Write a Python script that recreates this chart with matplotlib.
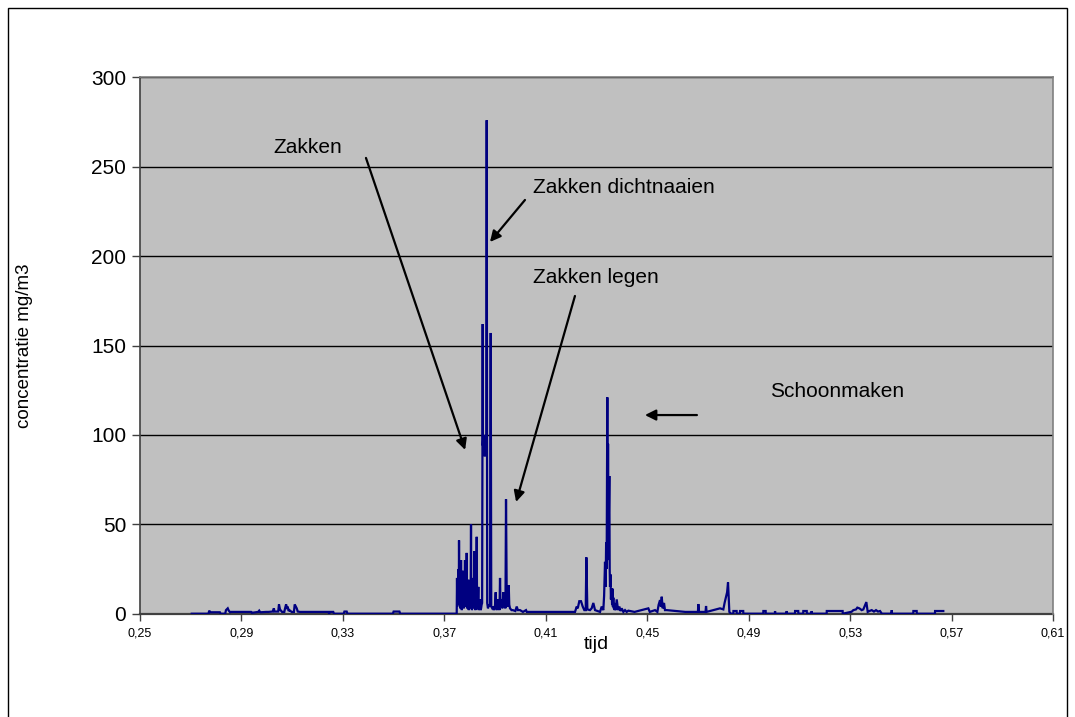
import matplotlib
matplotlib.use("Agg")
import matplotlib.pyplot as plt
import numpy as np
from matplotlib.patches import Rectangle
from matplotlib.ticker import FuncFormatter

plt.rcParams["font.family"] = ["Liberation Sans", "DejaVu Sans"]

# stofmeting: tijd (fractie van de dag) en concentratie (mg/m3), per fase
tijd_ochtend = [0.2704, 0.2770, 0.2773, 0.2777, 0.2815, 0.2818, 0.2836, 0.2839, 0.2846,
                0.2850, 0.2855, 0.2858, 0.2884, 0.2938, 0.2941, 0.2966, 0.2970, 0.2973,
                0.2976, 0.2997, 0.3006, 0.3023, 0.3028, 0.3030, 0.3045, 0.3048, 0.3052,
                0.3060, 0.3069, 0.3072, 0.3076, 0.3079, 0.3082, 0.3086, 0.3089, 0.3098,
                0.3107, 0.3110, 0.3118, 0.3122, 0.3131, 0.3243, 0.3246, 0.3249, 0.3262,
                0.3265, 0.3303, 0.3306, 0.3315, 0.3318, 0.3497, 0.3500, 0.3523, 0.3526,
                0.3748]
conc_ochtend = [0.0, 0.0, 1.7, 0.8, 0.8, 0.0, 0.0, 2.0, 3.0,
                1.7, 0.8, 1.0, 1.0, 1.0, 0.5, 1.0, 1.7, 1.0,
                0.8, 1.0, 1.0, 1.2, 3.0, 1.2, 1.2, 5.2, 2.4,
                1.0, 1.0, 3.0, 5.2, 3.5, 4.0, 1.5, 2.0, 1.0,
                1.0, 5.2, 3.0, 1.2, 1.0, 1.0, 0.0, 1.0, 1.0,
                0.0, 0.0, 1.2, 1.2, 0.0, 0.0, 1.2, 1.2, 0.0,
                0.0]

tijd_zakken = [0.37488, 0.37500, 0.37510, 0.37525, 0.37540, 0.37550, 0.37560, 0.37570,
               0.37579, 0.37590, 0.37600, 0.37610, 0.37620, 0.37630, 0.37640, 0.37650,
               0.37658, 0.37670, 0.37680, 0.37690, 0.37700, 0.37712, 0.37724, 0.37737,
               0.37750, 0.37765, 0.37780, 0.37797, 0.37815, 0.37828, 0.37840, 0.37850,
               0.37860, 0.37870, 0.37882, 0.37895, 0.37910, 0.37928, 0.37946, 0.37962,
               0.37980, 0.37995, 0.38010, 0.38020, 0.38030, 0.38041, 0.38052, 0.38063,
               0.38075, 0.38088, 0.38100, 0.38110, 0.38119, 0.38135, 0.38150, 0.38166,
               0.38182, 0.38196, 0.38210, 0.38225, 0.38240, 0.38258, 0.38277, 0.38290,
               0.38300, 0.38320, 0.38340, 0.38355, 0.38370, 0.38390, 0.38407, 0.38430,
               0.38450, 0.38470, 0.38490, 0.38513, 0.38522, 0.38530, 0.38540, 0.38555,
               0.38567, 0.38580, 0.38595, 0.38610, 0.38625, 0.38640, 0.38655, 0.38671,
               0.38690, 0.38720, 0.38760, 0.38800, 0.38829, 0.38850, 0.38890, 0.38932,
               0.38970, 0.39000, 0.39026, 0.39045, 0.39060, 0.39080, 0.39105, 0.39125,
               0.39150, 0.39175, 0.39196, 0.39215, 0.39230, 0.39263, 0.39285, 0.39300,
               0.39326, 0.39350, 0.39380, 0.39410, 0.39432, 0.39460, 0.39480, 0.39500,
               0.39539, 0.39560, 0.39590, 0.39650, 0.39700, 0.39800, 0.39854, 0.39900,
               0.39984, 0.40100, 0.40221, 0.40250, 0.41000, 0.42000]
conc_zakken = [0.0, 20.0, 4.0, 18.0, 8.0, 25.0, 15.0, 5.0,
               41.0, 12.0, 28.0, 6.0, 22.0, 3.0, 18.0, 8.0,
               30.0, 5.0, 10.0, 2.0, 18.0, 6.0, 24.0, 4.0,
               8.0, 3.0, 20.0, 6.0, 30.0, 4.0, 9.0, 15.0,
               25.0, 5.0, 34.0, 3.0, 12.0, 6.0, 19.0, 2.0,
               6.0, 12.0, 14.0, 3.0, 9.0, 20.0, 50.0, 4.0,
               10.0, 2.0, 4.0, 8.0, 20.0, 3.0, 12.0, 4.0,
               35.0, 5.0, 6.0, 2.0, 15.0, 5.0, 43.0, 3.0,
               10.0, 4.0, 15.0, 2.0, 5.0, 3.0, 8.0, 2.0,
               3.0, 5.0, 6.0, 162.0, 94.0, 98.0, 90.0, 96.0,
               92.0, 100.0, 88.0, 94.0, 90.0, 98.0, 92.0, 276.0,
               6.0, 3.0, 5.0, 4.0, 157.0, 4.0, 3.0, 4.0,
               2.0, 5.0, 12.0, 3.0, 4.0, 2.0, 8.0, 3.0,
               5.0, 2.0, 20.0, 4.0, 6.0, 8.0, 3.0, 4.0,
               12.0, 4.0, 5.0, 3.0, 64.0, 10.0, 16.0, 4.0,
               16.0, 5.0, 3.0, 2.0, 2.0, 1.5, 4.0, 2.0,
               2.0, 1.0, 2.0, 1.0, 1.0, 1.0]

tijd_schoon = [0.42153, 0.42219, 0.42260, 0.42322, 0.42389, 0.42456, 0.42520, 0.42575,
               0.42600, 0.42639, 0.42744, 0.42810, 0.42875, 0.42942, 0.43139, 0.43206,
               0.43269, 0.43300, 0.43336, 0.43360, 0.43380, 0.43400, 0.43427, 0.43440,
               0.43455, 0.43470, 0.43490, 0.43506, 0.43520, 0.43533, 0.43550, 0.43570,
               0.43585, 0.43600, 0.43615, 0.43630, 0.43645, 0.43664, 0.43680, 0.43700,
               0.43715, 0.43730, 0.43760, 0.43797, 0.43850, 0.43900, 0.43950, 0.43994,
               0.44060, 0.44125, 0.44190, 0.44255, 0.44500, 0.45044, 0.45100, 0.45308,
               0.45400, 0.45450, 0.45505, 0.45540, 0.45572, 0.45610, 0.45662, 0.45700,
               0.45769, 0.46500, 0.47000, 0.47015, 0.47040, 0.47300, 0.47319, 0.47340,
               0.47871, 0.48001, 0.48050, 0.48107, 0.48150, 0.48186, 0.48238, 0.48300]
conc_schoon = [1.0, 4.0, 3.0, 7.0, 7.0, 4.0, 2.0, 2.0,
               31.5, 2.4, 2.0, 3.0, 6.0, 2.0, 1.0, 4.0,
               2.0, 10.0, 29.0, 15.0, 40.0, 25.0, 121.0, 30.0,
               95.0, 35.0, 60.0, 77.0, 25.0, 15.0, 22.0, 8.0,
               14.0, 11.0, 5.0, 14.0, 4.0, 9.0, 3.0, 6.0,
               2.0, 5.0, 2.0, 8.0, 2.0, 4.0, 1.5, 3.0,
               1.0, 2.0, 1.0, 1.7, 1.0, 3.0, 1.0, 2.0,
               1.0, 5.0, 7.6, 4.0, 9.5, 3.0, 6.0, 2.0,
               2.0, 1.0, 1.0, 5.4, 1.0, 1.0, 4.3, 1.0,
               3.0, 2.4, 6.0, 9.5, 12.0, 17.5, 1.0, 0.0]

tijd_middag = [0.48395, 0.48400, 0.48525, 0.48530, 0.48655, 0.48660, 0.48785, 0.48790,
               0.49575, 0.49580, 0.49670, 0.49675, 0.50035, 0.50040, 0.50045, 0.50495,
               0.50500, 0.50505, 0.50825, 0.50830, 0.50955, 0.50960, 0.51150, 0.51155,
               0.51290, 0.51295, 0.51480, 0.51485, 0.51490, 0.52075, 0.52080, 0.52705,
               0.52710, 0.53060, 0.53127, 0.53233, 0.53285, 0.53364, 0.53458, 0.53521,
               0.53640, 0.53694, 0.53760, 0.53852, 0.53940, 0.54022, 0.54100, 0.54180,
               0.54250, 0.54636, 0.54641, 0.54646, 0.55490, 0.55495, 0.55625, 0.55630,
               0.56345, 0.56350, 0.56675]
conc_middag = [0.0, 1.5, 1.5, 0.0, 0.0, 1.5, 1.5, 0.0,
               0.0, 1.5, 1.5, 0.0, 0.0, 1.5, 0.0, 0.0,
               1.5, 0.0, 0.0, 1.5, 1.5, 0.0, 0.0, 1.5,
               1.5, 0.0, 0.0, 1.5, 0.0, 0.0, 1.5, 1.5,
               0.0, 1.1, 2.0, 2.4, 3.4, 3.0, 2.0, 2.4,
               6.5, 1.0, 1.5, 2.0, 1.2, 2.0, 1.2, 1.5,
               0.0, 0.0, 2.0, 0.0, 0.0, 1.5, 1.5, 0.0,
               0.0, 1.5, 1.5]

x_ticks = [0.25, 0.29, 0.33, 0.37, 0.41, 0.45, 0.49, 0.53, 0.57, 0.61]
y_ticks = [0, 50, 100, 150, 200, 250, 300]

# annotaties: tekst, tekstpositie, pijl (start -> punt)
labels = ["Zakken", "Zakken dichtnaaien", "Zakken legen", "Schoonmaken"]
label_pos = [(0.3024, 261), (0.4050, 238.6), (0.4050, 188.3), (0.4984, 124)]
arrow_start = [(0.3391, 254.9), (0.4018, 231.4), (0.4215, 177.7), (0.4696, 111.1)]
arrow_end = [(0.3782, 91.6), (0.3880, 207.9), (0.3983, 62.5), (0.4491, 111.1)]

tijd = np.concatenate([tijd_ochtend, tijd_zakken, tijd_schoon, tijd_middag])
conc = np.concatenate([conc_ochtend, conc_zakken, conc_schoon, conc_middag])

W, H = 1075, 717
fig = plt.figure(figsize=(W / 100, H / 100), dpi=100)
fig.patch.set_facecolor("white")
ax = fig.add_axes([140 / W, 1 - 613.7 / H, 913 / W, 536.4 / H])
ax.set_facecolor("#C0C0C0")

ax.plot(tijd, conc, color="#000080", lw=1.6, zorder=3, solid_joinstyle="miter")

ax.set_xlim(0.25, 0.61)
ax.set_ylim(0, 300)
ax.set_xticks(x_ticks)
ax.set_yticks(y_ticks)
ax.xaxis.set_major_formatter(FuncFormatter(lambda v, p: f"{v:.2f}".replace(".", ",")))

ax.yaxis.grid(True, color="black", lw=1.0)
ax.set_axisbelow(True)
for side in ["top", "right"]:
    ax.spines[side].set_color("#808080")
    ax.spines[side].set_linewidth(1.2)
ax.spines["left"].set_color("#404040")
ax.spines["bottom"].set_color("#404040")
ax.spines["left"].set_linewidth(1.2)
ax.spines["bottom"].set_linewidth(1.6)
ax.spines["bottom"].set_zorder(2)

ax.tick_params(axis="y", labelsize=15, length=6, width=1, color="#404040", pad=4)
ax.tick_params(axis="x", labelsize=9, length=5, width=1, color="#404040", pad=5)

ax.set_xlabel("tijd", fontsize=14)
ax.set_ylabel("concentratie mg/m3", fontsize=13.5)
ax.xaxis.set_label_coords(0.5, (613.7 - 636) / 536.4)
ax.yaxis.set_label_coords((33 - 140) / 913, 0.5)

for txt, pos in zip(labels, label_pos):
    ax.text(pos[0], pos[1], txt, fontsize=15, ha="left", va="center", zorder=5)
for s, e in zip(arrow_start, arrow_end):
    ax.annotate("", xy=e, xytext=s,
                arrowprops=dict(arrowstyle="-|>", color="black", lw=1.6,
                                mutation_scale=16, shrinkA=0, shrinkB=0),
                zorder=5)

# rand om de hele grafiek
fig.add_artist(Rectangle((8 / W, -0.01), (1067 - 8) / W, 1 - 8 / H + 0.01,
                         transform=fig.transFigure, fill=False,
                         edgecolor="black", lw=1.0))

fig.savefig("out.png", dpi=100)
